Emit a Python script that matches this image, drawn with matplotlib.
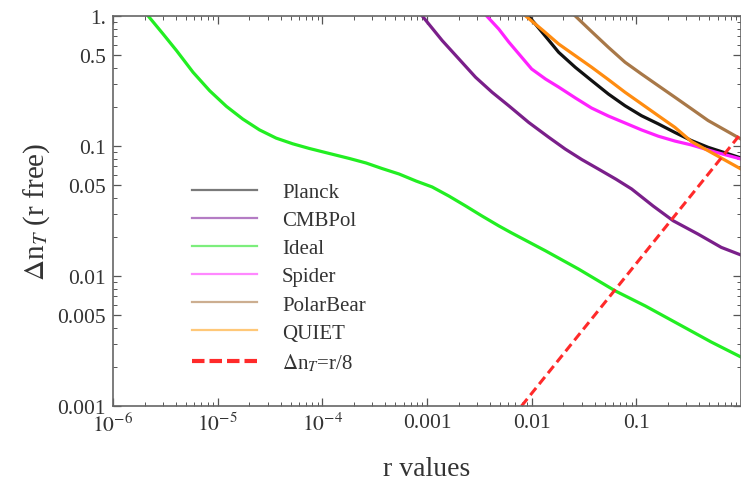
import matplotlib
matplotlib.use("Agg")
import matplotlib.pyplot as plt
from matplotlib.lines import Line2D
from matplotlib.ticker import FixedLocator, NullFormatter

# curve data (r, delta n_T)
r_planck = [9.35e-3, 0.0130, 0.0181, 0.0261, 0.0375, 0.0541, 0.0780, 0.112,
            0.162, 0.234, 0.337, 0.485, 1.0]
n_planck = [1.0, 0.727, 0.526, 0.403, 0.318, 0.251, 0.204, 0.171,
            0.148, 0.127, 0.110, 0.0977, 0.0809]

r_cmbpol = [9.01e-4, 1.40e-3, 2.02e-3, 2.91e-3, 4.19e-3, 6.04e-3, 9.35e-3, 0.0145,
            0.0209, 0.0301, 0.0434, 0.0640, 0.0902, 0.145, 0.225, 0.389, 0.648, 1.0]
n_cmbpol = [1.0, 0.646, 0.467, 0.338, 0.259, 0.204, 0.152, 0.117,
            0.0948, 0.0787, 0.0665, 0.0555, 0.0467, 0.0345, 0.0266, 0.0210, 0.0166, 0.0145]

r_ideal = [2.17e-6, 3.01e-6, 4.05e-6, 5.82e-6, 8.39e-6, 1.21e-5, 1.74e-5, 2.51e-5,
           3.62e-5, 5.21e-5, 7.52e-5, 1.12e-4, 1.81e-4, 2.62e-4, 3.72e-4, 5.41e-4,
           7.85e-4, 1.12e-3, 1.62e-3, 2.35e-3, 3.34e-3, 4.85e-3, 6.46e-3, 0.0136,
           0.0281, 0.0631, 0.122, 0.251, 0.518, 1.0]
n_ideal = [1.0, 0.727, 0.541, 0.369, 0.266, 0.202, 0.161, 0.133,
           0.115, 0.104, 0.0957, 0.0883, 0.0802, 0.0740, 0.0671, 0.0609,
           0.0538, 0.0484, 0.0412, 0.0345, 0.0290, 0.0243, 0.0214, 0.0156,
           0.0113, 0.00767, 0.00588, 0.00428, 0.00311, 0.00238]

r_spider = [3.72e-3, 4.85e-3, 6.04e-3, 7.85e-3, 0.0100, 0.0136, 0.0181, 0.0262,
            0.0373, 0.0541, 0.0785, 0.112, 0.162, 0.235, 0.334, 0.565, 1.0]
n_spider = [1.0, 0.794, 0.631, 0.492, 0.391, 0.327, 0.284, 0.234,
            0.196, 0.170, 0.150, 0.133, 0.119, 0.109, 0.102, 0.0899, 0.0794]

r_polarbear = [0.0261, 0.0375, 0.0541, 0.0780, 0.112, 0.162, 0.234, 0.337, 0.485, 1.0]
n_polarbear = [1.0, 0.757, 0.574, 0.441, 0.358, 0.291, 0.237, 0.193, 0.157, 0.113]

r_quiet = [8.77e-3, 0.0130, 0.0181, 0.0261, 0.0375, 0.0541, 0.0780, 0.112,
           0.162, 0.234, 0.337, 0.485, 1.0]
n_quiet = [1.0, 0.767, 0.609, 0.495, 0.403, 0.324, 0.259, 0.211,
           0.171, 0.139, 0.108, 0.0920, 0.0665]

r_line = [0.008, 1.0]
n_line = [0.001, 0.125]

names = ["Planck", "CMBPol", "Ideal", "Spider", "PolarBear", "QUIET"]
colors = ["#111111", "#7a1f8a", "#22ee22", "#ff22ff", "#a87848", "#ff8c10"]
legend_colors = ["#7a7a7a", "#b47cc4", "#7cee7c", "#ff88ff", "#ccae90", "#ffc878"]

xticks = [1e-6, 1e-5, 1e-4, 1e-3, 1e-2, 1e-1, 1.0]
xlabels = ["$10^{-6}$", "$10^{-5}$", "$10^{-4}$", "0.001", "0.01", "0.1", ""]
yticks = [0.001, 0.005, 0.01, 0.05, 0.1, 0.5, 1.0]
ylabels = ["0.001", "0.005", "0.01", "0.05", "0.1", "0.5", "1."]

plt.rcParams["font.family"] = "Liberation Serif"
plt.rcParams["mathtext.fontset"] = "stix"

fig = plt.figure(figsize=(7.41, 4.81), dpi=100)
ax = fig.add_axes([113 / 741, 74 / 481, 628 / 741, 390 / 481])

series = [(r_planck, n_planck), (r_cmbpol, n_cmbpol), (r_ideal, n_ideal),
          (r_spider, n_spider), (r_polarbear, n_polarbear), (r_quiet, n_quiet)]
for (rv, nv), c in zip(series, colors):
    ax.plot(rv, nv, color=c, lw=2.3, solid_joinstyle="round")
ax.plot(r_line, n_line, color="#ff2a2a", lw=2.2, ls=(0, (3, 1.6)))

ax.set_xscale("log")
ax.set_yscale("log")
ax.set_xlim(1e-6, 1.0)
ax.set_ylim(0.001, 1.0)

ax.xaxis.set_major_locator(FixedLocator(xticks))
ax.set_xticklabels(xlabels)
ax.yaxis.set_major_locator(FixedLocator(yticks))
ax.set_yticklabels(ylabels)
ax.xaxis.set_minor_formatter(NullFormatter())
ax.yaxis.set_minor_formatter(NullFormatter())

ax.tick_params(which="both", direction="in", top=True, right=True,
               color="#555555", labelsize=15.5, labelcolor="#333333")
ax.tick_params(which="major", length=6, width=0.9, pad=5)
ax.tick_params(which="minor", length=3, width=0.7)
for s in ax.spines.values():
    s.set_color("#666666")
    s.set_linewidth(1.2)

ax.set_xlabel("r values", fontsize=20, color="#333333", labelpad=14)
ax.set_ylabel(r"$\Delta$n$_{T}$ (r free)", fontsize=21, color="#333333", labelpad=4)

handles = [Line2D([], [], color=c, lw=1.6) for c in legend_colors]
handles.append(Line2D([], [], color="#ff2a2a", lw=3, ls=(0, (3, 1.2))))
labels = names + [r"$\Delta$n$_{T}$=r/8"]
ax.legend(handles, labels, loc="upper left", bbox_to_anchor=(0.11, 0.60),
          frameon=False, fontsize=15, handlelength=3.1, handletextpad=1.2,
          labelspacing=0.41, borderpad=0, labelcolor="#333333")

fig.savefig("out.png", dpi=100)
